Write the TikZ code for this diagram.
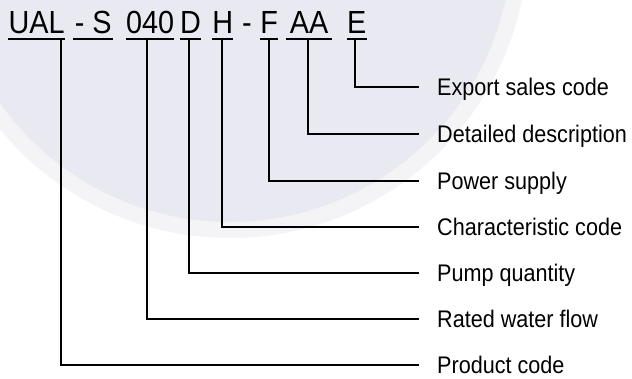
\documentclass[tikz,border=0pt]{standalone}
\usepackage{fontspec}
\setmainfont{Liberation Sans}[FakeStretch=0.9]
\usepackage{tikz}

\definecolor{wmdisk}{RGB}{233,233,241}
\definecolor{wmring}{RGB}{244,244,247}

\tikzset{
  code/.style={inner sep=0pt, anchor=base west, font=\fontsize{32}{36}\selectfont},
  uline/.style={line width=1.8pt},
  lead/.style={line width=1.8pt},
  desc/.style={anchor=west, inner xsep=18pt, inner ysep=0pt, text height=17pt, text depth=0pt, font=\fontsize{24}{28}\selectfont}
}

\begin{document}
\begin{tikzpicture}[x=1pt,y=-1pt]
\useasboundingbox (0,0) rectangle (632,378);

% Faint watermark disk
\begin{scope}
\clip (0,0) rectangle (632,378);
\fill[wmring] (230,-60) circle (298pt);
\fill[wmdisk] (230,-60) circle (282pt);
\end{scope}

% Model code
\node[code, minimum width=57pt] (ual) at (8,33) {UAL};
\node[code, minimum width=40pt] (dashs) at (73,33) {- S};
\node[code, minimum width=42pt] (flow) at (126,33) {040};
\node[code, minimum width=20pt] (pumps) at (180,33) {D};
\node[code, minimum width=21pt] (feat) at (212,33) {H};
\node[code] (dashb) at (242,33) {-};
\node[code, minimum width=18pt] (pwr) at (260,33) {F};
\node[code, minimum width=46pt] (detail) at (286,33) {AA};
\node[code, minimum width=18pt] (export) at (347,33) {E};

% Underlines
\foreach \n in {ual,dashs,flow,pumps,feat,pwr,detail,export}
  \draw[uline] ([yshift=-6pt]\n.base west) -- ([yshift=-6pt]\n.base east);

% Stem tops
\coordinate (tual) at (61,39);
\coordinate (tflow) at (147,39);
\coordinate (tpumps) at (189,39);
\coordinate (tfeat) at (222,39);
\coordinate (tpwr) at (269,39);
\coordinate (tdetail) at (308,39);
\coordinate (texport) at (355,39);

% Descriptions
\node[desc] (lexport) at (419,87) {Export sales code};
\node[desc] (ldetail) at (419,134) {Detailed description};
\node[desc] (lpwr) at (419,181) {Power supply};
\node[desc] (lfeat) at (419,227) {Characteristic code};
\node[desc] (lpumps) at (419,273) {Pump quantity};
\node[desc] (lflow) at (419,319) {Rated water flow};
\node[desc] (lual) at (419,365) {Product code};

% Leaders
\foreach \n in {export,detail,pwr,feat,pumps,flow,ual}
  \draw[lead] (t\n) |- (l\n.west);
\end{tikzpicture}
\end{document}
